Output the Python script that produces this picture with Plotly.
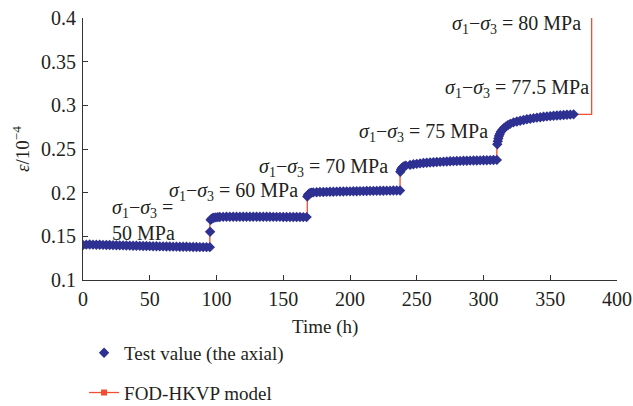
import plotly.graph_objects as go

# ---------------- data ----------------
stage1_t = [0, 2.5, 5, 7.5, 10, 12.5, 15, 17.5, 20, 22.5, 25, 27.5, 30, 32.5, 35, 37.5,
            40, 42.5, 45, 47.5, 50, 52.5, 55, 57.5, 60, 62.5, 65, 67.5, 70, 72.5, 75, 77.5,
            80, 82.5, 85, 87.5, 90, 92.5, 95]
stage1_v = [0.1400, 0.1405, 0.1406, 0.1405, 0.1404, 0.1403, 0.1402, 0.1401, 0.1400, 0.1399,
            0.1398, 0.1397, 0.1396, 0.1395, 0.1394, 0.1393, 0.1392, 0.1391, 0.1390, 0.1389,
            0.1388, 0.1387, 0.1386, 0.1385, 0.1385, 0.1384, 0.1383, 0.1382, 0.1382, 0.1381,
            0.1380, 0.1380, 0.1379, 0.1378, 0.1378, 0.1377, 0.1377, 0.1376, 0.1376]

stage2_t = [95.2, 95.6, 96.2, 97, 98, 99.5, 101,
            102.5, 105, 107.5, 110, 112.5, 115, 117.5, 120, 122.5, 125, 127.5, 130, 132.5,
            135, 137.5, 140, 142.5, 145, 147.5, 150, 152.5, 155, 157.5, 160, 162.5, 165, 167.5]
stage2_v = [0.1553, 0.1688, 0.1700, 0.1708, 0.1713, 0.1717, 0.1720,
            0.1722, 0.1723, 0.1724, 0.1724, 0.1725, 0.1725, 0.1725, 0.1725, 0.1725, 0.1725,
            0.1725, 0.1725, 0.1724, 0.1724, 0.1724, 0.1724, 0.1723, 0.1723, 0.1723, 0.1722,
            0.1722, 0.1722, 0.1721, 0.1721, 0.1721, 0.1720, 0.1720]

stage3_t = [168, 168.6, 169.3, 170.2, 171.3,
            172.5, 175, 177.5, 180, 182.5, 185, 187.5, 190, 192.5, 195, 197.5, 200, 202.5,
            205, 207.5, 210, 212.5, 215, 217.5, 220, 222.5, 225, 227.5, 230, 232.5, 235, 237.5]
stage3_v = [0.1955, 0.1975, 0.1988, 0.1996, 0.2000,
            0.2003, 0.2005, 0.2007, 0.2008, 0.2009, 0.2010, 0.2011, 0.2012, 0.2013, 0.2014,
            0.2015, 0.2015, 0.2016, 0.2017, 0.2018, 0.2018, 0.2019, 0.2020, 0.2020, 0.2021,
            0.2022, 0.2022, 0.2023, 0.2023, 0.2024, 0.2024, 0.2025]

stage4_t = [237.7, 238.2, 238.8, 239.6, 240.6, 241.8,
            245, 247.5, 250, 252.5, 255, 257.5, 260, 262.5, 265, 267.5, 270, 272.5, 275,
            277.5, 280, 282.5, 285, 287.5, 290, 292.5, 295, 297.5, 300, 302.5, 305, 307.5, 310]
stage4_v = [0.2240, 0.2262, 0.2280, 0.2293, 0.2302, 0.2310,
            0.2318, 0.2325, 0.2330, 0.2335, 0.2339, 0.2343, 0.2346, 0.2349, 0.2351, 0.2353,
            0.2355, 0.2357, 0.2359, 0.2361, 0.2362, 0.2364, 0.2365, 0.2366, 0.2367, 0.2368,
            0.2369, 0.2370, 0.2371, 0.2372, 0.2373, 0.2374, 0.2375]

stage5_t = [310.3, 310.7, 311.1, 311.6, 312.2, 313, 314, 315.2, 316.6, 318.2, 320,
            322.5, 325, 327.5, 330, 332.5, 335, 337.5, 340, 342.5, 345, 347.5, 350, 352.5,
            355, 357.5, 360, 362.5, 365, 367.5]
stage5_v = [0.2555, 0.2590, 0.2620, 0.2648, 0.2673, 0.2697, 0.2718, 0.2737, 0.2755, 0.2772,
            0.2788,
            0.2805, 0.2815, 0.2824, 0.2832, 0.2840, 0.2847, 0.2853, 0.2859, 0.2864, 0.2869,
            0.2873, 0.2877, 0.2880, 0.2883, 0.2886, 0.2889, 0.2892, 0.2894, 0.2897]

model_t = [0, 5, 20, 40, 60, 80, 95,
           95, 96, 98, 102, 120, 140, 160, 168,
           168, 169, 171, 175, 190, 210, 230, 237.5,
           237.5, 238.5, 240, 243, 250, 270, 290, 310,
           310, 311, 313, 316, 320, 330, 340, 350, 360, 367.5,
           381, 381]
model_v = [0.1400, 0.1405, 0.1399, 0.1392, 0.1385, 0.1379, 0.1376,
           0.1688, 0.1705, 0.1713, 0.1720, 0.1725, 0.1724, 0.1722, 0.1720,
           0.1955, 0.1980, 0.1995, 0.2005, 0.2012, 0.2018, 0.2023, 0.2025,
           0.2240, 0.2275, 0.2295, 0.2310, 0.2330, 0.2355, 0.2367, 0.2375,
           0.2555, 0.2625, 0.2697, 0.2745, 0.2788, 0.2832, 0.2859, 0.2877, 0.2889, 0.2897,
           0.2897, 0.4000]

x_ticks = [0, 50, 100, 150, 200, 250, 300, 350, 400]
y_ticks = [0.1, 0.15, 0.2, 0.25, 0.3, 0.35, 0.4]
y_tick_labels = ["0.1", "0.15", "0.2", "0.25", "0.3", "0.35", "0.4"]

SIG = "<i>σ</i><sub>1</sub>−<i>σ</i><sub>3</sub>"
stress_labels = [
    (SIG + " =", 20.2, 0.1820),
    ("50 MPa", 20.2, 0.1535),
    (SIG + " = 60 MPa", 62.9, 0.2010),
    (SIG + " = 70 MPa", 130.3, 0.2290),
    (SIG + " = 75 MPa", 205.2, 0.2690),
    (SIG + " = 77.5 MPa", 269.7, 0.3195),
    (SIG + " = 80 MPa", 274.9, 0.3920),
]

test_t = stage1_t + stage2_t + stage3_t + stage4_t + stage5_t
test_v = stage1_v + stage2_v + stage3_v + stage4_v + stage5_v

# ---------------- figure ----------------
FONT = "Liberation Serif, Times New Roman, serif"
TXT = "#231f20"
BLUE = "#2e3192"
RED = "#f04e30"

fig = go.Figure()
fig.add_trace(go.Scatter(
    x=model_t, y=model_v, mode="lines", name="FOD-HKVP model",
    line=dict(color=RED, width=1.3), showlegend=False,
))
fig.add_trace(go.Scatter(
    x=test_t, y=test_v, mode="markers", name="Test value (the axial)",
    marker=dict(symbol="diamond", size=8, color=BLUE, line=dict(width=0)),
    legendrank=1, legendgroup="a",
))
# legend entry for the model (line with square marker)
fig.add_trace(go.Scatter(
    x=[None], y=[None], mode="lines+markers", name="FOD-HKVP model",
    line=dict(color=RED, width=1.3),
    marker=dict(symbol="square", size=6, color=RED),
    legendrank=2, legendgroup="b",
))

for txt, x, y in stress_labels:
    fig.add_annotation(x=x, y=y, text=txt, showarrow=False, xanchor="left",
                       yanchor="middle", font=dict(family=FONT, size=20, color=TXT))

# x-axis title (sits left of centre in the reference)
fig.add_annotation(x=0.453, y=-0.179, xref="paper", yref="paper", text="Time (h)",
                   showarrow=False, xanchor="center", yanchor="middle",
                   font=dict(family=FONT, size=19, color=TXT))

axis_common = dict(
    showgrid=False, zeroline=False, showline=True, linecolor="#333", linewidth=1,
    ticks="inside", ticklen=5, tickcolor="#333", mirror=False,
    tickfont=dict(family=FONT, size=20, color=TXT), ticklabeloverflow="allow",
)
fig.update_xaxes(range=[0, 400], tickvals=x_ticks, ticklabelstandoff=1, **axis_common)
fig.update_yaxes(range=[0.1, 0.4], tickvals=y_ticks, ticktext=y_tick_labels,
                 ticklabelstandoff=2, **axis_common,
                 title=dict(text="<i>ε</i>/10<sup>−4</sup>",
                            font=dict(family=FONT, size=19, color=TXT), standoff=6))

fig.update_layout(
    width=633, height=406,
    margin=dict(l=83, r=16, t=18, b=126, autoexpand=False),
    paper_bgcolor="white", plot_bgcolor="white",
    showlegend=True,
    legend=dict(x=0.002, y=-0.206, xanchor="left", yanchor="top",
                traceorder="grouped", tracegroupgap=12,
                font=dict(family=FONT, size=19, color=TXT),
                bgcolor="rgba(0,0,0,0)"),
)

fig.write_html("out.html",
               config={"displayModeBar": False},
               post_script="document.body.style.margin='0px';"
                           "document.body.style.overflow='hidden';")
